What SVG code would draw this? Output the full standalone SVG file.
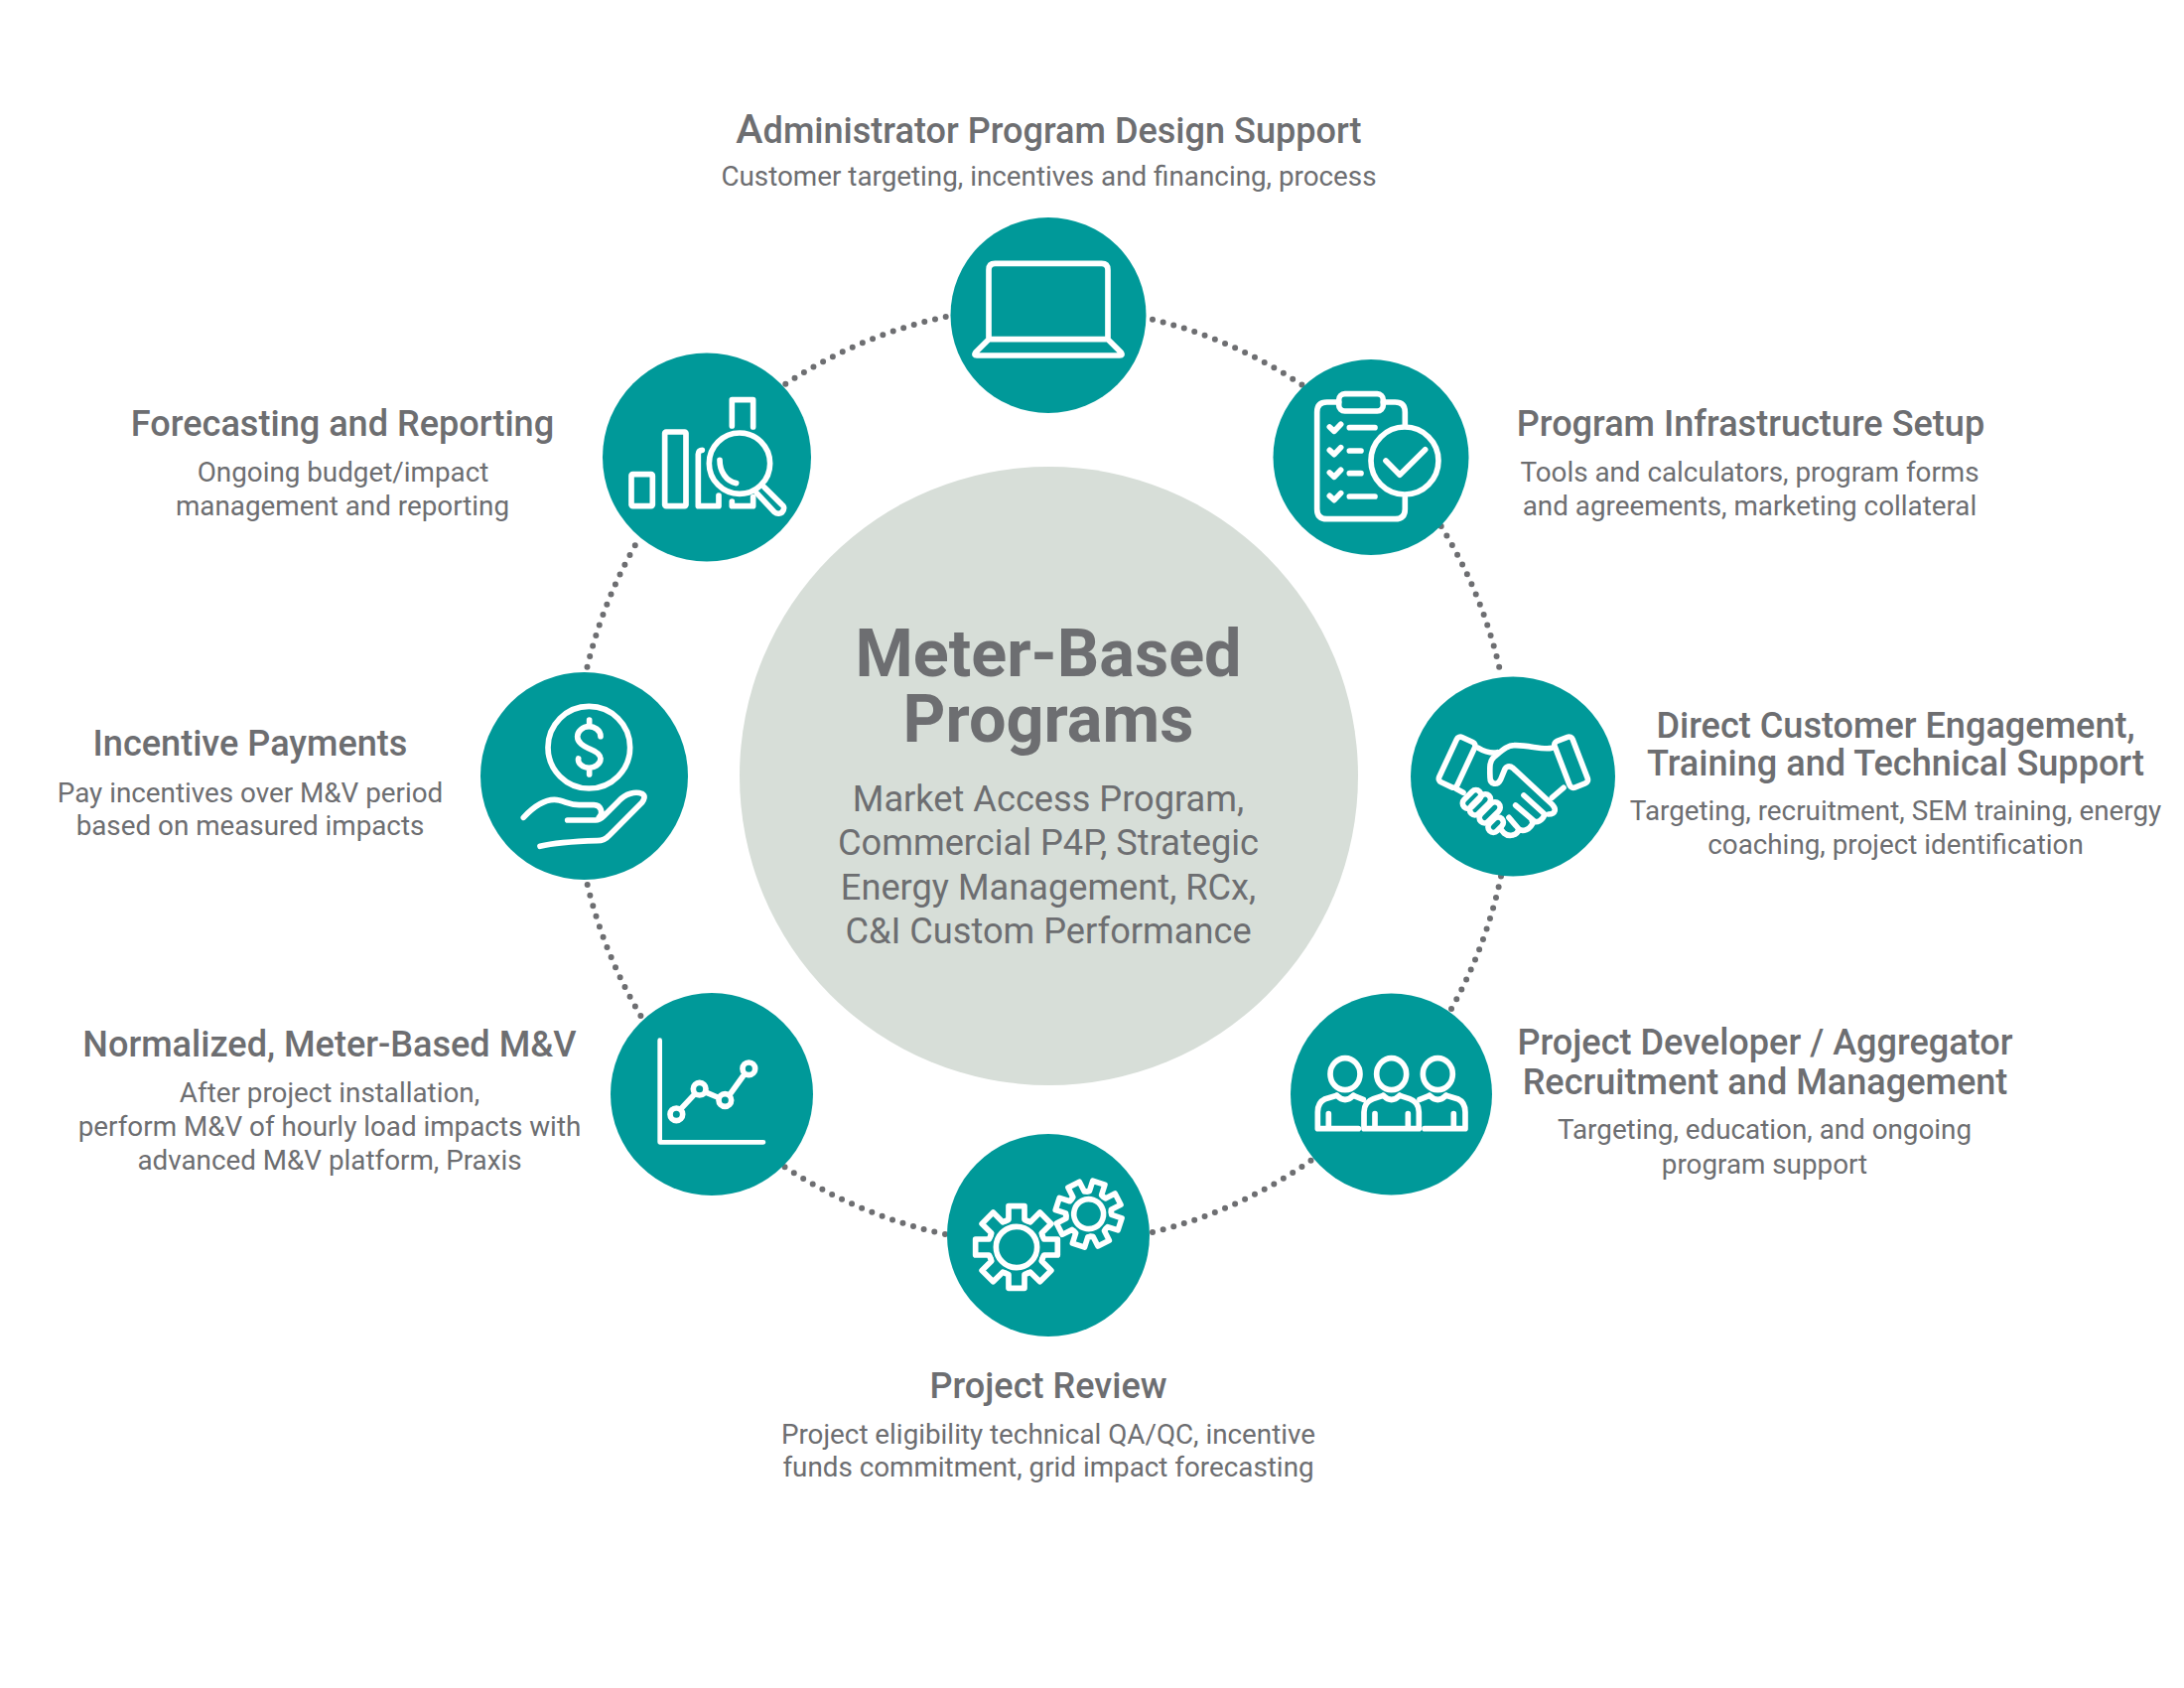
<svg xmlns="http://www.w3.org/2000/svg" width="2200" height="1700" viewBox="0 0 2200 1700">
<style>
text{font-family:Roboto,"Liberation Sans",sans-serif;fill:#6D6E71;text-anchor:middle}
.t{font-size:36.1px;font-weight:500}
.s{font-size:27.8px}
.m{font-size:36.2px}
.c{fill:#009999}
.i,.i *{fill:none;stroke:#fff;stroke-width:17;stroke-linecap:round;stroke-linejoin:round}
.d{fill:none;stroke:#6D6E71;stroke-width:6;stroke-linecap:round;stroke-dasharray:0 11}
</style>
<defs>
<path id="tooth" d="M-32.7-79L-24-83V-124H24V-83L32.7-79"/>
<g id="gear">
<use href="#tooth"/><use href="#tooth" transform="rotate(45)"/><use href="#tooth" transform="rotate(90)"/><use href="#tooth" transform="rotate(135)"/><use href="#tooth" transform="rotate(180)"/><use href="#tooth" transform="rotate(225)"/><use href="#tooth" transform="rotate(270)"/><use href="#tooth" transform="rotate(315)"/>
</g>
</defs>
<rect width="2200" height="1700" fill="#fff"/>
<g id="connectors">
<path class="d" d="M952.7 319A472.5 472.5 0 0 0 789.4 388"/>
<path class="d" d="M1161 321.7A472.5 472.5 0 0 1 1312 388"/>
<path class="d" d="M1451.7 530A472.5 472.5 0 0 1 1512 680"/>
<path class="d" d="M1512 882.5A472.5 472.5 0 0 1 1462 1016"/>
<path class="d" d="M1161 1241A472.5 472.5 0 0 0 1321.7 1168"/>
<path class="d" d="M952 1243A472.5 472.5 0 0 1 790 1175"/>
<path class="d" d="M591.7 891A472.5 472.5 0 0 0 646 1024"/>
<path class="d" d="M591.5 671.7A472.5 472.5 0 0 1 640.5 548"/>
</g>
<g id="center">
<circle cx="1056.5" cy="781.5" r="311.5" fill="#D7DED8"/>
<text x="1056" y="680.5" font-size="66.6" font-weight="700">Meter-Based</text>
<text x="1056" y="746.5" font-size="66.6" font-weight="700">Programs</text>
<text x="1056" y="816.5" class="m">Market Access Program,</text>
<text x="1056" y="861" class="m">Commercial P4P, Strategic</text>
<text x="1056" y="905.5" class="m">Energy Management, RCx,</text>
<text x="1056" y="950" class="m">C&amp;I Custom Performance</text>
</g>
<g id="node-admin">
<circle class="c" cx="1056" cy="317.5" r="98.5"/>
<g class="i" transform="translate(960 220) scale(.3333)">
<path d="M108 365V155Q108 136 127 136H449Q468 136 468 155V365ZM108 365L68 405Q62 414 72 414H504Q514 414 508 405L468 365"/>
</g>
<text class="t" x="1056.5" y="144.2"><tspan font-size="41">A</tspan>dministrator Program Design Support</text>
<text class="s" x="1056.5" y="186.8">Customer targeting, incentives and financing, process</text>
</g>
<g id="node-infrastructure">
<circle class="c" cx="1381" cy="460.5" r="98.5"/>
<g class="i" transform="translate(1270 340) scale(.3333)">
<path d="M236 195H200Q170 195 170 225V518Q170 548 200 548H406Q436 548 436 518V485M370 195H406Q436 195 436 225V262"/>
<rect x="236" y="170" width="134" height="52" rx="18"/>
<circle cx="435" cy="372" r="102"/>
<path d="M378 372L420 415L497 338"/>
<path d="M208 270L222 283L242 262M268 272H345M208 340L222 353L242 332M268 342H303M208 408L222 421L242 400M268 410H303M208 478L222 491L242 470M268 480H345"/>
</g>
<text class="t" x="1763.5" y="439">Program Infrastructure Setup</text>
<text class="s" x="1762.5" y="485">Tools and calculators, program forms</text>
<text class="s" x="1762.5" y="519">and agreements, marketing collateral</text>
</g>
<g id="node-engagement">
<ellipse class="c" cx="1524" cy="782" rx="103" ry="100.5"/>
<g class="i" transform="translate(1430 685) scale(.3333)">
<rect x="-30" y="-75" width="60" height="150" rx="12" transform="translate(113 248) rotate(25)"/>
<rect x="-29" y="-75" width="58" height="150" rx="12" transform="translate(458 248) rotate(-21)"/>
<path d="M178 205C195 215 215 222 235 218M400 205C370 212 330 195 285 197C265 197 250 212 225 232C210 245 212 265 213 295C213 315 235 320 245 300L258 268C265 258 275 258 285 268L400 375C415 390 410 405 390 405"/>
<path d="M315 348L378 405C372 425 355 432 340 425M290 378L345 425C335 455 310 458 300 450M270 415L300 450C295 470 270 475 255 462L245 450"/>
<path d="M110 328L132 340M400 355L435 325"/>
<rect x="-33" y="-16" width="66" height="32" rx="16" transform="translate(158 360) rotate(-45)"/>
<rect x="-38" y="-16" width="76" height="32" rx="16" transform="translate(183 376) rotate(-45)"/>
<rect x="-38" y="-16" width="76" height="32" rx="16" transform="translate(212 400) rotate(-45)"/>
<rect x="-26" y="-16" width="52" height="32" rx="16" transform="translate(230 437) rotate(-45)"/>
</g>
<text class="t" x="1909.5" y="743.2">Direct Customer Engagement,</text>
<text class="t" x="1909.5" y="780.7">Training and Technical Support</text>
<text class="s" x="1909.5" y="826">Targeting, recruitment, SEM training, energy</text>
<text class="s" x="1909.5" y="859.5">coaching, project identification</text>
</g>
<g id="node-developer">
<circle class="c" cx="1401.5" cy="1102" r="101.5"/>
<g class="i" transform="translate(1305 1005) scale(.3333)">
<ellipse cx="150" cy="230" rx="45" ry="48"/><ellipse cx="290" cy="230" rx="45" ry="48"/><ellipse cx="430" cy="230" rx="45" ry="48"/>
<path d="M125 295Q150 320 175 295M265 295Q290 320 315 295M405 295Q430 320 455 295"/>
<path d="M125 295L90 305C75 312 67 325 67 345V395H190M100 350V395M175 295L205 307"/>
<path d="M265 295L235 305C215 312 207 325 207 345V395H373V345C373 325 365 312 345 305L315 295M240 350V395M340 350V395"/>
<path d="M455 295L490 305C505 312 513 325 513 345V395H390M478 350V395M405 295L375 307"/>
</g>
<text class="t" x="1778" y="1061.5">Project Developer / Aggregator</text>
<text class="t" x="1778" y="1101.5">Recruitment and Management</text>
<text class="s" x="1777.5" y="1147">Targeting, education, and ongoing</text>
<text class="s" x="1777.5" y="1182">program support</text>
</g>
<g id="node-review">
<circle class="c" cx="1056" cy="1244" r="102"/>
<g class="i" transform="translate(900 1130) scale(.3333)">
<g transform="translate(372 378)"><use href="#gear"/><circle r="62"/></g>
<g transform="translate(590 278) rotate(18) scale(.8)" style="stroke-width:21"><use href="#gear" style="stroke-width:21"/><circle r="56" style="stroke-width:21"/></g>
</g>
<text class="t" x="1056" y="1408">Project Review</text>
<text class="s" x="1056" y="1453.5">Project eligibility technical QA/QC, incentive</text>
<text class="s" x="1056" y="1487">funds commitment, grid impact forecasting</text>
</g>
<g id="node-mv">
<circle class="c" cx="717" cy="1102" r="102"/>
<g class="i" transform="translate(620 1005) scale(.3333)">
<path style="stroke-width:14" d="M134 128V436H447"/>
<path d="M198 335L238 292M277 287L308 300M347 290L385 237"/>
<circle cx="184" cy="352" r="19"/><circle cx="254" cy="275" r="19"/><circle cx="331" cy="309" r="19"/><circle cx="403" cy="214" r="19"/>
</g>
<text class="t" x="332" y="1064.4">Normalized, Meter-Based M&amp;V</text>
<text class="s" x="332" y="1110">After project installation,</text>
<text class="s" x="332" y="1144">perform M&amp;V of hourly load impacts with</text>
<text class="s" x="332" y="1178">advanced M&amp;V platform, Praxis</text>
</g>
<g id="node-incentive">
<circle class="c" cx="588.5" cy="781.5" r="104.5"/>
<g class="i" transform="translate(480 680) scale(.3333)">
<circle cx="340" cy="218" r="124"/>
<path d="M375 185C375 165 355 155 340 155C320 155 305 170 305 185C305 205 325 215 340 222C360 230 375 240 375 252C375 270 355 280 340 280C320 280 305 265 308 252M341 135V155M341 280V300"/>
<path d="M142 430C175 395 215 370 250 378C275 385 285 392 310 392H355C375 392 385 415 370 430M275 438H360C370 438 375 435 385 425L430 380C450 358 480 350 500 358C512 365 507 375 500 385L400 485C390 497 380 500 365 500C300 502 240 505 192 517"/>
</g>
<text class="t" x="252" y="761.4">Incentive Payments</text>
<text class="s" x="252" y="808">Pay incentives over M&amp;V period</text>
<text class="s" x="252" y="841">based on measured impacts</text>
</g>
<g id="node-forecast">
<circle class="c" cx="712" cy="460.5" r="105"/>
<g class="i" transform="translate(600 350) scale(.3333)">
<rect x="108" y="383" width="64" height="96" rx="4"/>
<rect x="209" y="255" width="64" height="224" rx="4"/>
<path d="M322 310C315 310 310 314 310 322V479H372V447"/>
<path d="M412 237V158H476V240M412 465V479H476V452"/>
<circle cx="435" cy="350" r="92"/>
<path d="M375 340C375 375 395 405 425 410"/>
<path d="M487 440L540 497C552 507 563 498 563 498C572 488 570 480 563 475L510 422"/>
</g>
<text class="t" x="345" y="439.4">Forecasting and Reporting</text>
<text class="s" x="345.5" y="485">Ongoing budget/impact</text>
<text class="s" x="345" y="518.5">management and reporting</text>
</g>
</svg>
